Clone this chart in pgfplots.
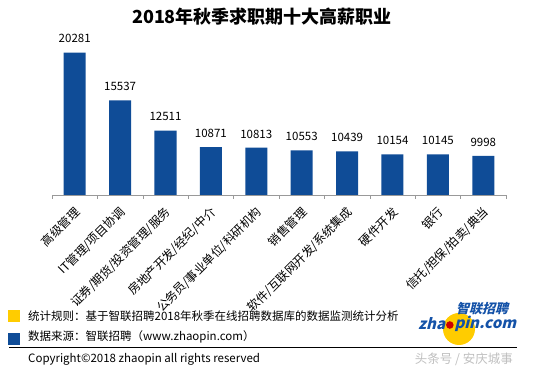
\documentclass[border=0pt]{standalone}
\usepackage{fontspec}
\setmainfont{Noto Sans CJK SC}
\newfontfamily\logofont[FakeSlant=0.25]{Noto Sans CJK SC}
\usepackage{pgfplots}
\pgfplotsset{compat=1.18}
\definecolor{barblue}{HTML}{0F4C97}
\definecolor{logoyellow}{HTML}{FFCC00}
\definecolor{logoblue}{HTML}{1452A8}
\begin{document}
\begin{tikzpicture}[x=1pt,y=1pt]
\useasboundingbox (0,0) rectangle (550,372);
\node[font=\fontsize{18}{20}\selectfont\bfseries] at (262,355) {2018年秋季求职期十大高薪职业};
\begin{axis}[
  at={(52pt,177pt)}, anchor=south west,
  scale only axis, width=454pt, height=159.6pt,
  xmin=-0.5, xmax=9.5, ymin=6100, ymax=22000,
  ybar, bar width=22pt,
  axis y line=none, axis x line*=bottom,
  ytick=\empty,
  x axis line style={draw=gray!80},
  xtick={0,...,9},
  xticklabels={高级管理, IT管理/项目协调, 证券/期货/投资管理/服务, 房地产开发/经纪/中介, 公务员/事业单位/科研机构, 销售管理, 软件/互联网开发/系统集成, 硬件开发, 银行, 信托/担保/拍卖/典当},
  major tick length=0pt,
  minor xtick={-0.5,0.5,...,9.5},
  minor tick length=4pt,
  tick align=outside,
  minor x tick style={draw=gray!80},
  xticklabel style={font=\fontsize{12}{13}\selectfont, inner sep=0pt, xshift=3pt, yshift=-15pt, rotate=45, anchor=east},
  nodes near coords,
  nodes near coords style={font=\fontsize{11.5}{12}\selectfont, yshift=6pt, text=black},
  /pgf/number format/.cd, 1000 sep={}, assume math mode=true
]
\addplot[fill=barblue, draw=none] coordinates {(0,20281) (1,15537) (2,12511) (3,10871) (4,10813) (5,10553) (6,10439) (7,10154) (8,10145) (9,9998)};
\end{axis}
% footer
\fill[logoyellow] (8,50) rectangle (20,62);
\fill[barblue] (8,27) rectangle (20,39);
\node[anchor=west, inner sep=0, font=\fontsize{11.5}{12}\selectfont] at (28,56) {统计规则：基于智联招聘2018年秋季在线招聘数据库的数据监测统计分析};
\node[anchor=west, inner sep=0, font=\fontsize{11.5}{12}\selectfont] at (28,35) {数据来源：智联招聘（www.zhaopin.com）};
\draw[black, line width=0.8pt] (9,25) -- (517,25);
\node[anchor=west, inner sep=0, font=\fontsize{11.5}{12}\selectfont] at (28,13) {Copyright©2018 zhaopin all rights reserved};
\node[anchor=east, inner sep=0, font=\fontsize{12.5}{13}\selectfont, text=gray!50] at (513,13) {头条号 / 安庆城事};
% logo
\fill[logoyellow] (459,43) circle (16);
\node[inner sep=0, font=\logofont\fontsize{13}{14}\selectfont\bfseries, text=logoblue] at (482,63) {智联招聘};
\node[anchor=west, inner sep=0, font=\logofont\fontsize{15}{16}\selectfont\bfseries, text=logoblue] (z) at (418,48) {zha};
\fill[red!80!black] ([xshift=4.5pt,yshift=-1pt]z.east) circle (3.8);
\node[anchor=west, inner sep=0, font=\logofont\fontsize{15}{16}\selectfont\bfseries, text=logoblue] at ([xshift=9pt]z.east) {pin.com};
\end{tikzpicture}
\end{document}
